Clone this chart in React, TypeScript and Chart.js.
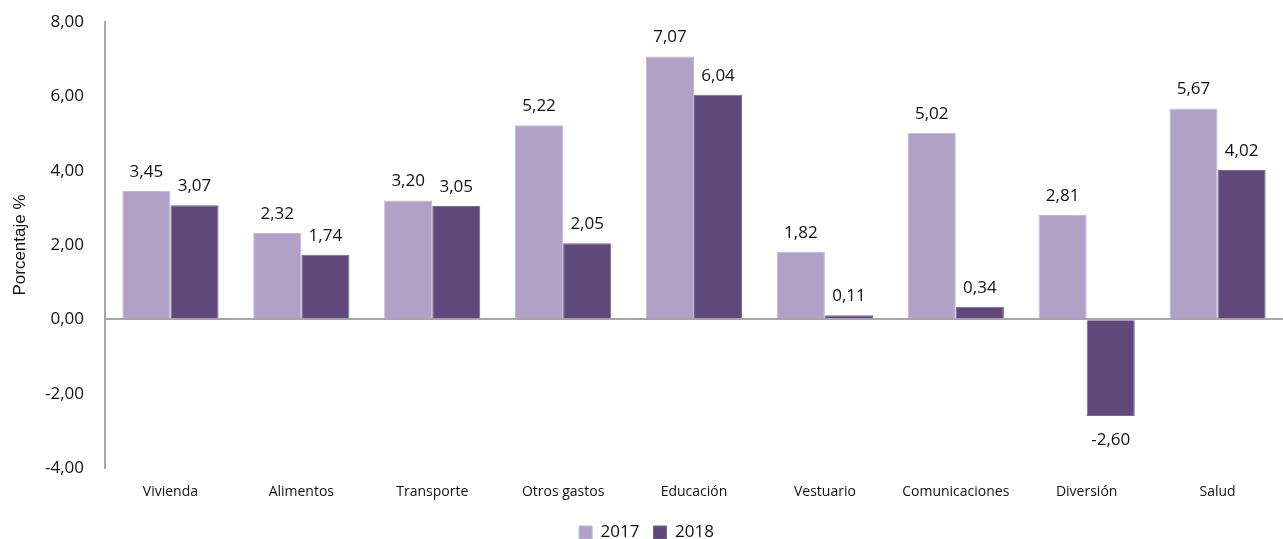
import React, { useEffect, useRef } from "react";
import { Chart, registerables } from "chart.js";

Chart.register(...registerables);

const categories = ["Vivienda", "Alimentos", "Transporte", "Otros gastos", "Educación", "Vestuario", "Comunicaciones", "Diversión", "Salud"];
const series2017 = [3.45, 2.32, 3.2, 5.22, 7.07, 1.82, 5.02, 2.81, 5.67];
const series2018 = [3.07, 1.74, 3.05, 2.05, 6.04, 0.11, 0.34, -2.6, 4.02];
const seriesNames = ["2017", "2018"];
const yTicks = [-4, -2, 0, 2, 4, 6, 8];

const fmt = (v: number) => v.toFixed(2).replace(".", ",");
const FONT = "'Open Sans', 'Noto Sans', sans-serif";

const labelPlugin = {
  id: "barLabels",
  afterDatasetsDraw(chart: any) {
    const ctx = chart.ctx;
    ctx.save();
    ctx.font = `17px ${FONT}`;
    ctx.fillStyle = "#111";
    ctx.textAlign = "center";
    ctx.textBaseline = "middle";
    chart.data.datasets.forEach((ds: any, i: number) => {
      const meta = chart.getDatasetMeta(i);
      meta.data.forEach((bar: any, j: number) => {
        const v = ds.data[j];
        const y = v >= 0 ? bar.y - 19 : bar.y + 24;
        ctx.fillText(fmt(v), bar.x, y);
      });
    });
    ctx.restore();
  },
};

export default function App() {
  const ref = useRef<HTMLCanvasElement>(null);
  useEffect(() => {
    document.body.style.margin = "0";
    const chart = new Chart(ref.current!, {
      type: "bar",
      data: {
        labels: categories,
        datasets: [
          { label: seriesNames[0], data: series2017, backgroundColor: "#b2a1c7", borderColor: "#c3b5d4", borderWidth: 1, categoryPercentage: 0.735, barPercentage: 1 },
          { label: seriesNames[1], data: series2018, backgroundColor: "#5f497a", borderColor: "#7a6593", borderWidth: 1, categoryPercentage: 0.735, barPercentage: 1 },
        ],
      },
      options: {
        animation: false,
        responsive: false,
        layout: { padding: { top: 22, right: 0, bottom: -12, left: 10 } },
        plugins: {
          tooltip: { enabled: false },
          legend: {
            position: "bottom",
            labels: {
              font: { family: FONT, size: 17 },
              color: "#111",
              boxWidth: 13,
              boxHeight: 13,
              padding: 14,
              useBorderRadius: false,
            },
          },
        },
        scales: {
          x: {
            grid: { display: false },
            border: { display: false },
            afterFit: (axis: any) => {
              axis.height = 42;
            },
            ticks: { font: { family: FONT, size: 14 }, color: "#111", padding: 8, maxRotation: 0 },
          },
          y: {
            min: -4,
            max: 8,
            afterBuildTicks: (axis: any) => {
              axis.ticks = yTicks.map((v) => ({ value: v }));
            },
            afterFit: (axis: any) => {
              axis.width = 95;
              axis.paddingTop = 0;
              axis.paddingBottom = 0;
            },
            grid: {
              drawTicks: false,
              color: (c: any) => (c.tick && c.tick.value === 0 ? "#a6a6a6" : "rgba(0,0,0,0)"),
              lineWidth: 2,
            },
            border: { display: true, color: "#a6a6a6", width: 2 },
            ticks: {
              font: { family: FONT, size: 17 },
              color: "#111",
              padding: 21,
              callback: (v: any) => fmt(Number(v)),
            },
            title: {
              display: true,
              text: "Porcentaje %",
              font: { family: "'Liberation Sans', Arial, sans-serif", size: 17 },
              color: "#111",
              padding: 0,
            },
          },
        },
      },
      plugins: [labelPlugin],
    });
    return () => chart.destroy();
  }, []);
  return <canvas ref={ref} width={1283} height={539} style={{ display: "block" }} />;
}
